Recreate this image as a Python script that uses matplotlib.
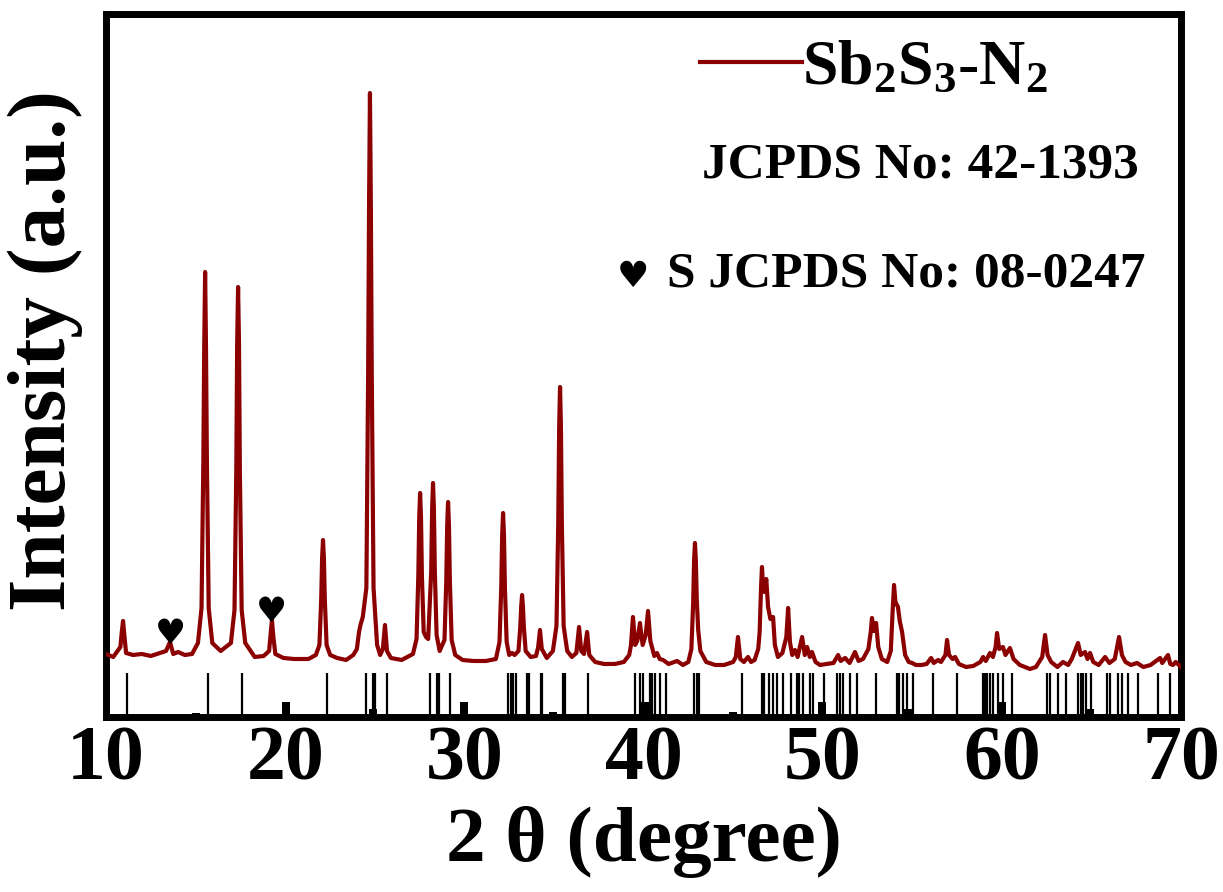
"""
XRD pattern of Sb2S3 annealed under N2, with JCPDS reference sticks.
"""

import matplotlib

matplotlib.use("Agg")
import matplotlib.pyplot as plt

# -- Measured pattern (2theta in degrees, intensity in a.u.) -----------------
TWO_THETA = [
    10.0, 10.4, 10.8, 10.88, 10.95, 11.02, 11.12, 11.5, 12.0, 12.5, 13.0, 13.35,
    13.57, 13.75, 14.02, 14.4, 14.8,
    15.13, 15.33, 15.43, 15.48, 15.53, 15.58, 15.63, 15.73, 15.93, 16.4,
    16.97, 17.17, 17.27, 17.32, 17.37, 17.42, 17.47, 17.57, 17.77,
    18.3, 18.8, 19.1, 19.18, 19.26, 19.34, 19.45, 19.9, 20.5, 21.3, 21.71,
    21.91, 22.01, 22.06, 22.11, 22.16, 22.21, 22.31, 22.51, 22.9, 23.4, 23.8,
    24.0, 24.12, 24.2, 24.33, 24.53, 24.63, 24.68, 24.73, 24.78, 24.83, 24.93,
    25.13, 25.3, 25.45, 25.57, 25.68, 25.9, 26.5,
    27.13, 27.33, 27.43, 27.48, 27.53, 27.58, 27.63, 27.73, 27.86, 27.98,
    28.15, 28.2, 28.25, 28.3, 28.35, 28.45, 28.62, 28.89, 28.99, 29.04, 29.09,
    29.14, 29.19, 29.29, 29.49,
    29.9, 30.5, 31.2, 31.76, 31.96, 32.06, 32.11, 32.16, 32.21, 32.26, 32.36,
    32.5, 32.66, 32.8, 33.02, 33.12, 33.17, 33.22, 33.27, 33.32, 33.42, 33.7,
    34.0, 34.12, 34.22, 34.32, 34.6,
    34.94, 35.14, 35.24, 35.29, 35.34, 35.39, 35.44, 35.54, 35.74, 36.0, 36.25,
    36.4, 36.52, 36.68, 36.85, 36.97, 37.3, 37.8, 38.4, 38.9, 39.2,
    39.3, 39.41, 39.53, 39.65, 39.8, 39.95, 40.12, 40.25, 40.38, 40.6, 40.75,
    40.9, 41.09, 41.4, 41.87, 42.2, 42.5, 42.67, 42.77, 42.82, 42.87, 42.92,
    42.97, 43.05, 43.17, 43.5, 44.0, 44.5, 45.0,
    45.15, 45.27, 45.4, 45.6, 45.83, 46.0, 46.2, 46.4, 46.48, 46.56, 46.61,
    46.68, 46.75, 46.85, 46.95, 47.08, 47.23, 47.33, 47.5, 47.75, 47.97, 48.07,
    48.17, 48.3, 48.45, 48.6, 48.85, 49.0, 49.13, 49.28, 49.4, 49.6, 49.85,
    50.2, 50.6, 50.86, 51.0, 51.25, 51.5, 51.8, 52.0, 52.25, 52.55,
    52.68, 52.75, 52.85, 52.98, 53.1, 53.3, 53.6, 53.8, 53.9, 53.98, 54.06,
    54.2, 54.3, 54.43, 54.6, 54.8, 54.99, 55.2, 55.5, 55.8, 56.05, 56.2, 56.44,
    56.6, 56.85, 56.94, 57.05, 57.25, 57.39, 57.6, 58.0, 58.4, 58.8, 58.95,
    59.1, 59.34, 59.5, 59.65, 59.73, 59.85, 60.06, 60.2, 60.45, 60.65, 61.0,
    61.57, 61.9,
    62.25, 62.41, 62.55, 62.75, 63.1, 63.41, 63.7, 63.9, 64.25, 64.4, 64.64,
    64.78, 64.92, 65.1, 65.4, 65.76, 66.0, 66.3, 66.54, 66.7, 66.9, 67.2,
    67.54, 67.9, 68.3, 68.83, 68.95, 69.27, 69.4, 69.55, 69.7, 70.0,
]
INTENSITY = [
    63, 60, 70, 85, 96, 82, 64, 62, 63, 61, 64, 66,
    75, 63, 65, 62, 63,
    74, 109, 254, 369, 445, 369, 254, 109, 74, 66,
    74, 107, 246, 375, 430, 375, 246, 107, 74,
    60, 61, 66, 82, 97, 80, 63, 59, 58, 58, 62,
    72, 118, 159, 177, 159, 118, 72, 62, 59, 57, 62,
    68, 85, 92, 100, 129, 345, 512, 624, 512, 345, 129,
    72, 62, 68, 92, 66, 59, 57,
    63, 78, 141, 199, 224, 199, 141, 85, 80, 78,
    146, 208, 234, 208, 146, 82, 66, 77, 136, 191, 215,
    191, 136, 77, 62,
    57, 56, 56, 58, 75, 131, 182, 204, 182, 131, 75,
    62, 64, 62, 66, 90, 110, 122, 110, 90, 66, 60,
    61, 70, 87, 68, 59,
    66, 91, 194, 289, 330, 289, 194, 91, 66, 60, 64,
    90, 66, 63, 85, 62, 55, 53, 53, 55, 62,
    72, 100, 72, 76, 94, 72, 82, 106, 76, 61, 64,
    58, 57, 53, 56, 52, 55, 68, 114, 156, 174, 156,
    118, 87, 66, 55, 52, 52, 55,
    60, 80, 58, 55, 60, 55, 57, 68, 85, 130, 150,
    128, 125, 138, 110, 98, 100, 72, 60, 64, 80, 109,
    75, 62, 67, 60, 80, 62, 70, 60, 65, 55, 52,
    53, 54, 62, 56, 59, 54, 65, 56, 58, 68,
    85, 99, 86, 94, 70, 58, 55, 66, 105, 132, 115,
    110, 96, 85, 62, 55, 54, 52, 52, 53, 59, 54, 57,
    55, 62, 77, 62, 58, 60, 53, 50, 51, 55, 60,
    56, 64, 60, 70, 84, 68, 70, 62, 69, 58, 52,
    48, 50,
    60, 82, 62, 55, 50, 55, 52, 58, 74, 62, 65,
    58, 64, 55, 52, 60, 54, 58, 80, 62, 55, 52,
    54, 50, 52, 59, 54, 62, 53, 52, 55, 50,
]

# -- Reference lines ---------------------------------------------------------
# Sb2S3, JCPDS 42-1393 (all drawn at the same height)
SB2S3_REF = [
    11.17, 15.69, 17.59, 22.33, 24.51, 24.90, 25.01, 25.68, 28.08, 28.47,
    28.59, 29.20, 32.44, 32.58, 32.73, 32.86, 33.48, 33.63, 34.26, 34.35,
    35.52, 35.62, 36.92, 39.52, 39.80, 39.95, 40.36, 40.49, 40.64, 40.92,
    41.24, 42.82, 42.97, 43.10, 45.48, 46.59, 46.72, 47.02, 47.21, 47.43,
    47.80, 48.21, 48.55, 48.70, 48.92, 49.29, 49.44, 50.07, 50.78, 50.96,
    51.15, 51.53, 51.93, 52.97, 54.13, 54.27, 54.50, 54.68, 55.06, 56.17,
    57.52, 58.93, 59.06, 59.19, 59.34, 59.49, 59.80, 60.08, 60.55, 62.54,
    62.69, 63.15, 63.58, 64.27, 64.40, 64.54, 64.70, 64.96, 65.85, 66.04,
    66.50, 66.69, 67.06, 67.62, 68.73, 69.39,
]
SB2S3_REF_HEIGHT = 44

# S, JCPDS 08-0247
S_REF = [15.02, 20.05, 24.9, 29.98, 34.95, 40.08, 45.0, 49.96, 54.76, 60.0, 64.9]
S_REF_HEIGHT = [4, 15, 8, 15, 5, 15, 5, 15, 8, 15, 8]

# S impurity peaks marked with a heart
S_PEAK_X = [13.57, 19.26]
S_PEAK_Y = [75, 97]

LINE_COLOR = "#8B0000"

plt.rcParams.update({
    "font.family": "Liberation Serif",
    "font.weight": "bold",
    "mathtext.fontset": "custom",
    "mathtext.rm": "Liberation Serif:bold",
    "mathtext.it": "Liberation Serif:bold:italic",
    "mathtext.bf": "Liberation Serif:bold",
})


def main() -> None:
    fig = plt.figure(figsize=(12.23, 8.92), dpi=100)
    ax = fig.add_axes([0.0867, 0.1962, 0.8790, 0.7881])

    ax.plot(TWO_THETA, INTENSITY, color=LINE_COLOR, lw=3.0,
            label=r"Sb$_2$S$_3$-N$_2$", zorder=3)
    ax.vlines(SB2S3_REF, 0, SB2S3_REF_HEIGHT, color="black", lw=1.6)
    ax.bar(S_REF, S_REF_HEIGHT, width=0.45, color="black", linewidth=0)

    for x, y in zip(S_PEAK_X, S_PEAK_Y):
        ax.text(x, y - 2, "\u2665", family="DejaVu Sans", fontsize=25,
                ha="center", va="baseline", color="black")

    ax.set_xlim(10, 70)
    ax.set_ylim(0, 703)
    ax.set_yticks([])
    ax.set_xticks(range(10, 71, 10))
    ax.tick_params(axis="x", length=0, pad=6, labelsize=56)
    for sp in ax.spines.values():
        sp.set_linewidth(5)

    ax.legend(loc="upper left", bbox_to_anchor=(0.5526, 0.963), frameon=False,
              fontsize=46, handlelength=1.6, handletextpad=0.0,
              borderpad=0, borderaxespad=0)

    ax.text(0.554, 0.768, "JCPDS No: 42-1393", transform=ax.transAxes,
            fontsize=37, ha="left", va="baseline")
    ax.text(0.490, 0.612, "\u2665", transform=ax.transAxes,
            family="DejaVu Sans", fontsize=26, ha="center", va="baseline")
    ax.text(0.522, 0.612, "S JCPDS No: 08-0247", transform=ax.transAxes,
            fontsize=37, ha="left", va="baseline")

    fig.text(0.5262, 0.056, "2 \u03b8 (degree)", fontsize=57,
             ha="center", va="center")
    fig.text(0.037, 0.607, "Intensity (a.u.)", fontsize=60, rotation=90,
             ha="center", va="center")

    fig.savefig("out.png", dpi=100)
    plt.close(fig)


if __name__ == "__main__":
    main()
